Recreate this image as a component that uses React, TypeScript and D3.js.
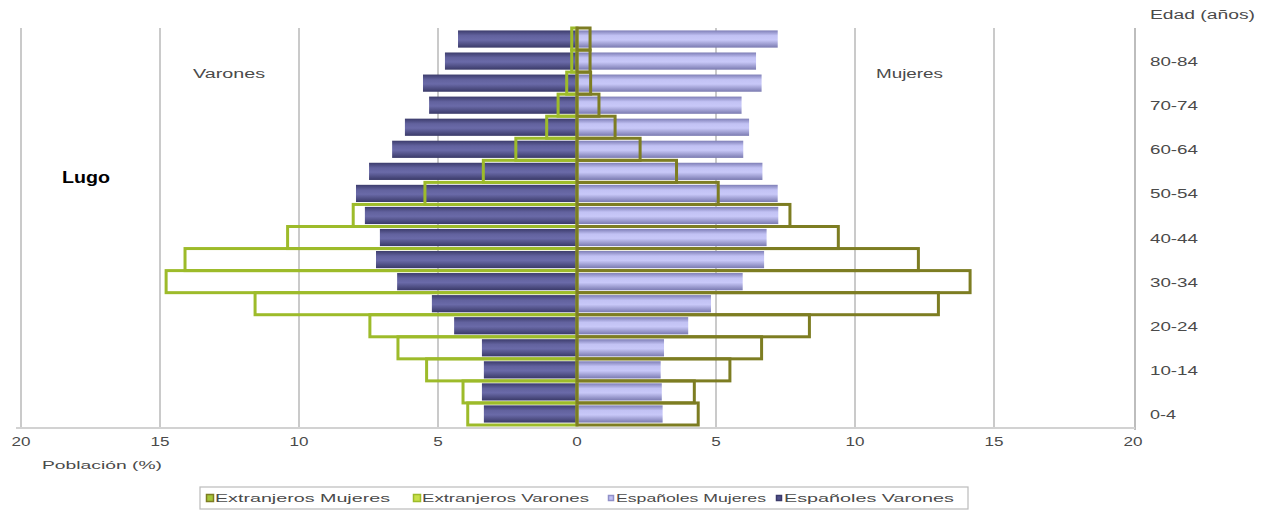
import React from "react";
import * as d3 from "d3";

const ageGroups = ["0-4","5-9","10-14","15-19","20-24","25-29","30-34","35-39","40-44","45-49","50-54","55-59","60-64","65-69","70-74","75-79","80-84","85+"];
const espVarones = [3.35,3.42,3.35,3.42,4.42,5.22,6.47,7.23,7.09,7.63,7.95,7.48,6.65,6.19,5.32,5.54,4.75,4.28];
const espMujeres = [3.08,3.05,3.01,3.13,4.0,4.82,5.96,6.73,6.82,7.24,7.22,6.67,5.98,6.19,5.92,6.64,6.44,7.22];
const extVarones = [3.93,4.1,5.41,6.44,7.45,11.58,14.78,14.1,10.41,8.05,5.47,3.37,2.2,1.09,0.68,0.37,0.19,0.19];
const extMujeres = [4.36,4.22,5.5,6.64,8.36,13.0,14.14,12.28,9.4,7.66,5.08,3.58,2.27,1.37,0.79,0.49,0.47,0.47];
const xTicks = [-20,-15,-10,-5,0,5,10,15,20];
const legendItems = ["Extranjeros Mujeres","Extranjeros Varones","Españoles Mujeres","Españoles Varones"];

const W = 1272, H = 514;
const colGreen = "#9dbb2a";
const colOlive = "#7d7d22";
const txt = "#4a4a4a";
const font = "'Liberation Sans', Arial, sans-serif";

// approximate width of wide-set reference text: ~9.4 px per char for digits/labels
const wide = (s: string, per: number) => s.length * per;

export default function App() {
  const x = d3.scaleLinear().domain([-20, 20]).range([21, 1133]);
  const y = d3.scaleBand().domain([...ageGroups].reverse()).range([28, 425]).paddingInner(0).paddingOuter(0);
  const bw = y.bandwidth();
  const pad = bw * 0.11;
  const legendSwatch = [
    { fill: "#a6c63a", stroke: colOlive, size: 7 },
    { fill: "#c8e04a", stroke: colGreen, size: 7 },
    { fill: "#c0c0f4", stroke: "#9090c8", size: 5 },
    { fill: "#50508a", stroke: "#3a3a6a", size: 5 },
  ];
  const legendX = [210, 417, 611, 779];
  const legendLen = [175, 167, 150, 170];
  return (
    <svg width={W} height={H} style={{ position: "absolute", left: 0, top: 0, background: "#fff" }} fontFamily={font}>
      <defs>
        <linearGradient id="gV" x1="0" y1="0" x2="0" y2="1">
          <stop offset="0" stopColor="#3c3c6c" />
          <stop offset="0.3" stopColor="#62629e" />
          <stop offset="0.55" stopColor="#6a6aa8" />
          <stop offset="1" stopColor="#3a3a68" />
        </linearGradient>
        <linearGradient id="gM" x1="0" y1="0" x2="0" y2="1">
          <stop offset="0" stopColor="#7e7eb6" />
          <stop offset="0.3" stopColor="#c2c2f4" />
          <stop offset="0.55" stopColor="#c8c8f8" />
          <stop offset="1" stopColor="#7a7ab0" />
        </linearGradient>
      </defs>
      {/* gridlines */}
      {xTicks.filter(t => t !== 0 && t !== 20).map(t => (
        <line key={"g" + t} x1={x(t)} x2={x(t)} y1={28} y2={428} stroke="#cacaca" strokeWidth={2} />
      ))}
      <line x1={1135} x2={1135} y1={28} y2={430} stroke="#bdbdbd" strokeWidth={2} />
      <line x1={16} x2={1135} y1={428} y2={428} stroke="#d2d2d2" strokeWidth={2} />
      {/* Spanish bars */}
      {ageGroups.map((g, i) => (
        <g key={"s" + g}>
          <rect x={x(-espVarones[i])} y={(y(g) as number) + pad} width={x(0) - x(-espVarones[i])} height={bw - 2 * pad} fill="url(#gV)" />
          <rect x={x(0)} y={(y(g) as number) + pad} width={x(espMujeres[i]) - x(0)} height={bw - 2 * pad} fill="url(#gM)" />
        </g>
      ))}
      {/* Foreign outlines */}
      {ageGroups.map((g, i) => (
        <g key={"e" + g}>
          <rect x={x(-extVarones[i])} y={y(g) as number} width={x(0) - x(-extVarones[i])} height={bw} fill="none" stroke={colGreen} strokeWidth={3} />
          <rect x={x(0)} y={y(g) as number} width={x(extMujeres[i]) - x(0)} height={bw} fill="none" stroke={colOlive} strokeWidth={3} />
        </g>
      ))}
      {/* x tick labels */}
      {xTicks.map(t => {
        const s = String(Math.abs(t));
        return (
          <text key={"t" + t} x={x(t)} y={446} textAnchor="middle" fontSize={12} fill={txt}
            textLength={wide(s, 9.5)} lengthAdjust="spacingAndGlyphs">{s}</text>
        );
      })}
      <text x={42} y={469} fontSize={11.5} fill={txt} textLength={120} lengthAdjust="spacingAndGlyphs">Población (%)</text>
      {/* y labels */}
      {ageGroups.map((g, i) => i % 2 === 0 ? (
        <text key={"y" + g} x={1150} y={(y(g) as number) + bw / 2 + 5} fontSize={12} fill={txt}
          textLength={g.length === 3 ? 26 : 48} lengthAdjust="spacingAndGlyphs">{g}</text>
      ) : null)}
      <text x={1150} y={19} fontSize={12} fill={txt} textLength={105} lengthAdjust="spacingAndGlyphs">Edad (años)</text>
      <text x={193} y={78} fontSize={12} fill={txt} textLength={72} lengthAdjust="spacingAndGlyphs">Varones</text>
      <text x={876} y={78} fontSize={12} fill={txt} textLength={67} lengthAdjust="spacingAndGlyphs">Mujeres</text>
      <text x={62} y={183} fontSize={16} fontWeight="bold" fill="#000" textLength={48} lengthAdjust="spacingAndGlyphs">Lugo</text>
      {/* legend */}
      <rect x={200} y={487} width={768} height={22} fill="#fff" stroke="#bbb" strokeWidth={1.2} />
      {legendItems.map((l, i) => (
        <g key={"l" + i}>
          <rect x={legendX[i] - legendSwatch[i].size / 2} y={498 - legendSwatch[i].size / 2} width={legendSwatch[i].size} height={legendSwatch[i].size} fill={legendSwatch[i].fill} stroke={legendSwatch[i].stroke} strokeWidth={1.5} />
          <text x={legendX[i] + 5} y={502} fontSize={11} fill={txt} textLength={legendLen[i]} lengthAdjust="spacingAndGlyphs">{l}</text>
        </g>
      ))}
    </svg>
  );
}
